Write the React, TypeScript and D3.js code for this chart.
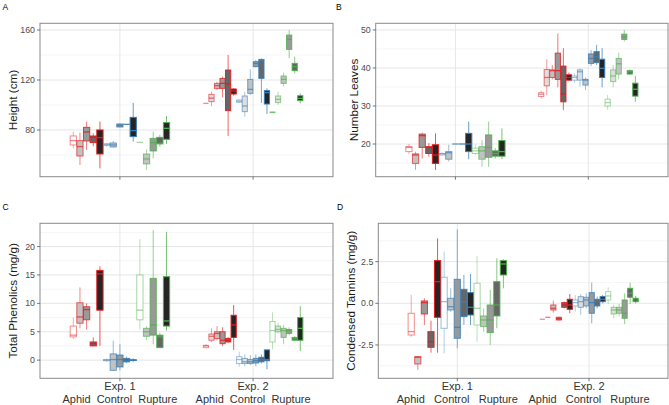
import React from "react";
import * as d3 from "d3";

// [treatment index, fill level, lower whisker, q1, median, q3, upper whisker]
type Box = number[];

const treatments = ["Aphid", "Control", "Rupture"];
const experiments = ["Exp. 1", "Exp. 2"];
const treatmentColors = ["#E41A1C", "#377EB8", "#4DAF4A"];
const levelFills = ["#ffffff", "#dedede", "#c2c2c2", "#999999", "#666666", "#252525"];
const levelAlpha = [0.5, 0.58, 0.68, 0.8, 0.9, 1];

const heightExp1: Box[] = [
  [0, 0, 65.3, 68, 71.5, 75.2, 78.7],
  [0, 2, 52, 59.2, 66.7, 71.5, 77.9],
  [0, 3, 64, 71.2, 78.4, 82.1, 86.7],
  [0, 4, 67, 69.9, 74.2, 75.2, 77.3],
  [0, 5, 49.3, 60.8, 73.9, 80, 86.7],
  [1, 0, 66.4, 67.7, 68.3, 69, 69.6],
  [1, 2, 65.9, 66.4, 68, 69.6, 71.2],
  [1, 3, 82, 82.4, 83.7, 84.8, 85.3],
  [1, 4, 84.5, 84.5, 84.5, 84.5, 84.5],
  [1, 5, 70.7, 74.7, 79.5, 90.1, 101.6],
  [2, 0, 70.1, 70.1, 70.1, 70.1, 70.1],
  [2, 2, 48, 52.8, 56.8, 60.8, 64.5],
  [2, 3, 57.3, 63.2, 69.9, 73.3, 78.7],
  [2, 4, 66.7, 68.8, 69.3, 74.1, 76],
  [2, 5, 68.8, 72.5, 81.3, 85.9, 91.2],
];
const heightExp2: Box[] = [
  [0, 0, 101.3, 101.3, 101.3, 101.3, 101.3],
  [0, 1, 99.2, 102.7, 105.5, 108.5, 110.7],
  [0, 2, 112, 113.3, 115.5, 117.3, 118.7],
  [0, 3, 106.1, 113.3, 117.3, 121.3, 122.7],
  [0, 4, 75.2, 95.5, 116.8, 128, 140],
  [0, 5, 107.5, 108.8, 111.2, 112.8, 113.5],
  [1, 0, 101.5, 102.2, 103, 104, 104.5],
  [1, 1, 90.7, 94.7, 99.2, 107.2, 110.7],
  [1, 2, 108, 109.3, 112.5, 120.5, 128.5],
  [1, 3, 130, 130.7, 133.3, 134.7, 136],
  [1, 4, 101.6, 121.3, 135.5, 136.5, 137.3],
  [1, 5, 92.8, 100.8, 109.9, 111.5, 113.3],
  [2, 0, 93.6, 93.8, 94.1, 94.4, 94.6],
  [2, 1, 100, 101.9, 104.5, 107.2, 110.7],
  [2, 2, 115, 117.3, 120.5, 123.2, 126],
  [2, 3, 137.3, 144.5, 152.5, 156, 160],
  [2, 4, 125.3, 127.5, 130.7, 133.3, 138.7],
  [2, 5, 101.3, 103.5, 105.3, 107.4, 109.3],
];

const leavesExp1: Box[] = [
  [0, 0, 17.4, 18, 19.1, 19.3, 20],
  [0, 2, 13.2, 14.9, 17.1, 17.4, 18],
  [0, 3, 16.2, 19.1, 22.2, 22.6, 23],
  [0, 4, 16.7, 17.5, 19.1, 19.3, 20.2],
  [0, 5, 13.2, 14.9, 17.1, 19.8, 22.8],
  [1, 0, 17, 17.1, 17.4, 17.5, 17.8],
  [1, 2, 15.4, 16, 17.7, 18, 19.8],
  [1, 3, 20, 20, 20, 20, 20],
  [1, 4, 20, 20, 20, 20, 20],
  [1, 5, 16, 18, 20, 22.8, 25.9],
  [2, 0, 17, 17.5, 18.2, 18.9, 19.8],
  [2, 2, 14, 16, 18.2, 19.3, 21],
  [2, 3, 14, 16.5, 19.1, 22.4, 25.9],
  [2, 4, 16.2, 16.8, 17.5, 18.2, 18.9],
  [2, 5, 16, 16.8, 18, 20.9, 24.1],
];
const leavesExp2: Box[] = [
  [0, 0, 32, 32.5, 33.1, 33.5, 34],
  [0, 1, 32.9, 35.3, 37.5, 39.6, 42.3],
  [0, 2, 37, 37.5, 39.3, 39.5, 40.8],
  [0, 3, 34.9, 37, 39.3, 43.9, 49.1],
  [0, 4, 28.9, 31.1, 33.2, 40.5, 45.2],
  [0, 5, 36.7, 36.8, 37.5, 38.2, 38.8],
  [1, 0, 36.1, 36.8, 37.5, 37.9, 38.6],
  [1, 1, 35.1, 36.8, 39, 39.5, 39.9],
  [1, 2, 34.2, 35.5, 36.8, 37, 37.5],
  [1, 3, 40.5, 41.2, 42.5, 43.7, 44.7],
  [1, 4, 40.8, 41.4, 43, 44.3, 46.1],
  [1, 5, 34.9, 37.5, 39.9, 42.3, 45.2],
  [2, 0, 29, 30, 30.9, 31.8, 32.9],
  [2, 1, 34.9, 36.4, 37.9, 39.5, 40.8],
  [2, 2, 37, 38.4, 41.1, 42.5, 44],
  [2, 3, 47, 47.5, 48.2, 48.9, 50],
  [2, 4, 38.2, 38.4, 39, 39.3, 39.6],
  [2, 5, 31.1, 32.6, 34.4, 36, 37.9],
];

const phenolicsExp1: Box[] = [
  [0, 0, 3.8, 4.1, 4.4, 6, 7.5],
  [0, 2, 5.6, 6.5, 7.6, 10.1, 12.8],
  [0, 3, 5.4, 7.1, 8.9, 9.4, 10],
  [0, 4, 2.5, 2.5, 2.9, 3.2, 4],
  [0, 5, 2.5, 8.8, 15.2, 15.8, 16.5],
  [1, 0, -0.3, -0.1, 0, 0.1, 0.3],
  [1, 2, -1.9, -1.8, 0.1, 1.1, 3.4],
  [1, 3, -1.8, -1.2, 0.1, 0.9, 2.8],
  [1, 4, -0.5, -0.3, 0, 0.3, 0.6],
  [1, 5, -0.3, -0.05, 0, 0.05, 0.3],
  [2, 0, 5.4, 7.1, 8.8, 15, 21.3],
  [2, 2, 3.5, 4.2, 5, 5.6, 6],
  [2, 3, 2.8, 4.4, 6.2, 14.4, 22.9],
  [2, 4, 2.2, 2.2, 4.1, 4.4, 4.8],
  [2, 5, 5.2, 6, 6.9, 14.7, 22.6],
];
const phenolicsExp2: Box[] = [
  [0, 0, 2.1, 2.2, 2.5, 2.6, 2.8],
  [0, 1, 3.2, 3.5, 4.2, 4.6, 5.6],
  [0, 2, 3.5, 3.8, 4.7, 5, 6],
  [0, 3, 2.5, 2.9, 3.5, 5, 5.8],
  [0, 4, 3.1, 3.2, 3.5, 3.8, 4.1],
  [0, 5, 1.8, 4, 6.2, 7.9, 9.7],
  [1, 0, -1.2, -0.6, 0.1, 0.6, 1.5],
  [1, 1, -1.1, -0.6, -0.3, 0.3, 1],
  [1, 2, -0.9, -0.6, -0.3, 0.1, 0.9],
  [1, 3, -1.1, -0.5, -0.1, 0.3, 1],
  [1, 4, -0.6, -0.3, 0.1, 0.5, 1],
  [1, 5, -1.6, -0.1, 0.1, 1.8, 1.9],
  [2, 0, 1.9, 3.2, 5.2, 6.8, 8.4],
  [2, 1, 4.7, 5, 5.4, 6, 6.6],
  [2, 2, 2.8, 4, 5.2, 5.6, 6.2],
  [2, 3, 4.4, 4.7, 5.2, 5.4, 5.8],
  [2, 4, 3.5, 3.5, 3.8, 4, 4.2],
  [2, 5, 1.6, 3.5, 5.6, 7.5, 9.5],
];

const tanninsExp1: Box[] = [
  [0, 0, -2, -1.9, -1.7, -0.6, 0.5],
  [0, 2, -4, -3.64, -3.24, -3.2, -3.16],
  [0, 3, -1.3, -0.64, 0.04, 0.14, 0.3],
  [0, 4, -2.96, -2.64, -2.3, -1.7, -1.04],
  [0, 5, -2.96, -0.84, 1.3, 2.56, 3.9],
  [1, 0, -3, -1.5, 0.1, 1.56, 3.1],
  [1, 2, -0.5, -0.4, -0.2, 0.3, 0.9],
  [1, 3, -2.7, -2.1, -1.44, 1.44, 4.44],
  [1, 4, -1.3, -0.8, 0.1, 0.84, 1.7],
  [1, 5, -1.3, -0.7, -0.24, 0.64, 1.76],
  [2, 0, -2.3, -1.3, -0.3, 1.2, 2.84],
  [2, 2, -1.7, -1.4, -1, -0.76, -0.3],
  [2, 3, -2.5, -1.76, -1, -0.1, 0.8],
  [2, 4, -1.5, -0.76, -0.1, 1.3, 2.7],
  [2, 5, 0.9, 1.7, 2.36, 2.56, 2.64],
];
const tanninsExp2: Box[] = [
  [0, 0, -0.96, -0.96, -0.96, -0.96, -0.96],
  [0, 1, -0.84, -0.84, -0.84, -0.84, -0.84],
  [0, 2, -0.56, -0.4, -0.3, -0.1, 0.16],
  [0, 3, -1.04, -1, -0.92, -0.84, -0.8],
  [0, 4, -0.3, -0.24, -0.1, 0.04, 0.1],
  [0, 5, -0.6, -0.36, -0.1, 0.24, 0.56],
  [1, 0, -0.5, -0.16, 0.04, 0.2, 0.5],
  [1, 1, -0.7, -0.24, 0.1, 0.4, 0.56],
  [1, 2, -0.3, -0.16, 0.2, 0.36, 0.6],
  [1, 3, -1.2, -0.6, 0.04, 0.64, 1.24],
  [1, 4, -0.3, -0.16, 0.1, 0.24, 0.4],
  [1, 5, 0, 0.1, 0.24, 0.4, 0.5],
  [2, 0, -0.04, 0.2, 0.44, 0.7, 0.96],
  [2, 1, -0.9, -0.64, -0.4, -0.24, -0.1],
  [2, 2, -0.76, -0.6, -0.4, -0.24, -0.04],
  [2, 3, -1.24, -0.9, -0.6, 0.2, 0.6],
  [2, 4, -0.04, 0.36, 0.6, 0.9, 1.24],
  [2, 5, 0, 0.1, 0.2, 0.3, 0.44],
];

const heightTicks = [80, 120, 160];
const heightMinor = [60, 100, 140];
const leavesTicks = [20, 30, 40, 50];
const leavesMinor = [15, 25, 35, 45];
const phenolicsTicks = [0, 5, 10, 15, 20];
const phenolicsMinor = [2.5, 7.5, 12.5, 17.5, 22.5];
const tanninsTicks = [-2.5, 0, 2.5];
const tanninsMinor = [-3.75, -1.25, 1.25, 3.75];

const FONT = "'Liberation Sans', Arial, Helvetica, sans-serif";

function stroke(t: number, lvl: number, k = 1) {
  const c = d3.color(treatmentColors[t])!;
  c.opacity = levelAlpha[lvl] * k;
  return c.toString();
}

function Panel(props: any) {
  const {
    left, right, top, bottom, domain, major, minor, data, title, titleX,
    letter, letterX, letterY, fmt, xLabels, treatLabel,
  } = props;
  const y = d3.scaleLinear().domain(domain).range([bottom, top]);
  const x = d3.scalePoint<string>().domain(experiments).range([left, right]).padding(0.6);
  const step = x.step();
  const dodge = 0.75 * step;
  const midY = (top + bottom) / 2;

  return (
    <g>
      <text x={letterX} y={letterY} fontSize={8.5} fill="#000" fontFamily={FONT}>{letter}</text>
      {minor.map((v: number) => (
        <line key={"mi" + v} x1={left} x2={right} y1={y(v)} y2={y(v)} stroke="#f2f2f2" strokeWidth={0.8} />
      ))}
      {major.map((v: number) => (
        <line key={"ma" + v} x1={left} x2={right} y1={y(v)} y2={y(v)} stroke="#e6e6e6" strokeWidth={1} />
      ))}
      {experiments.map((e) => (
        <line key={"vx" + e} x1={x(e)} x2={x(e)} y1={top} y2={bottom} stroke="#e6e6e6" strokeWidth={1} />
      ))}
      {experiments.map((e, ei) => {
        const boxes: Box[] = data[ei];
        const n = boxes.length;
        const slot = dodge / n;
        const x0 = (x(e) as number) - dodge / 2;
        return (
          <g key={"g" + e}>
            {boxes.map((b, i) => {
              const [t, lvl, lo, q1, med, q3, hi] = b;
              const cx = x0 + slot * (i + 0.5);
              const bw = slot * 0.94;
              const sc = stroke(t, lvl);
              const wc = stroke(t, lvl, 0.75);
              return (
                <g key={i}>
                  <line x1={cx} x2={cx} y1={y(hi)} y2={y(q3)} stroke={wc} strokeWidth={1} />
                  <line x1={cx} x2={cx} y1={y(q1)} y2={y(lo)} stroke={wc} strokeWidth={1} />
                  {q3 - q1 > 0 && (
                    <rect x={cx - bw / 2} y={y(q3)} width={bw} height={y(q1) - y(q3)}
                      fill={levelFills[lvl]} stroke={sc} strokeWidth={1} />
                  )}
                  <line x1={cx - bw / 2} x2={cx + bw / 2} y1={y(med)} y2={y(med)} stroke={sc} strokeWidth={1.3} />
                </g>
              );
            })}
          </g>
        );
      })}
      <rect x={left} y={top} width={right - left} height={bottom - top} fill="none" stroke="#8a8a8a" strokeWidth={1} />
      {major.map((v: number) => (
        <g key={"t" + v}>
          <line x1={left - 3} x2={left} y1={y(v)} y2={y(v)} stroke="#555" strokeWidth={0.8} />
          <text x={left - 5} y={y(v)} dy="0.35em" textAnchor="end" fontSize={8.8} fill="#4d4d4d" fontFamily={FONT}>
            {fmt(v)}
          </text>
        </g>
      ))}
      {experiments.map((e) => (
        <line key={"xt" + e} x1={x(e)} x2={x(e)} y1={bottom} y2={bottom + 3} stroke="#555" strokeWidth={0.8} />
      ))}
      {xLabels &&
        experiments.map((e) => (
          <g key={"xl" + e}>
            <text x={x(e)} y={bottom + 11.7} textAnchor="middle" fontSize={11} fill="#333" fontFamily={FONT}>{e}</text>
            <text x={x(e)} y={bottom + 24.7} textAnchor="middle" fontSize={11} fill="#333" fontFamily={FONT}
              style={{ whiteSpace: "pre" }}>
              {treatLabel}
            </text>
          </g>
        ))}
      <text transform={`translate(${titleX},${midY}) rotate(-90)`} textAnchor="middle" fontSize={11.7}
        fill="#1a1a1a" fontFamily={FONT}>
        {title}
      </text>
    </g>
  );
}

const intFmt = (v: number) => String(v);
const oneDec = (v: number) => v.toFixed(1);

export default function App() {
  const sep2 = treatments.join("  ");
  const sep3 = treatments.join("   ");
  return (
    <svg width={669} height={405} style={{ position: "absolute", left: 0, top: 0, background: "#fff" }}>
      <rect x={0} y={0} width={669} height={405} fill="#fff" />
      <Panel left={40} right={333} top={23.3} bottom={176.7} domain={[42.6, 165.4]}
        major={heightTicks} minor={heightMinor} data={[heightExp1, heightExp2]}
        title="Height (cm)" titleX={17} letter="A" letterX={2.5} letterY={10} fmt={intFmt} xLabels={false} />
      <Panel left={375.7} right={668} top={23.3} bottom={176.7} domain={[11.4, 51.75]}
        major={leavesTicks} minor={leavesMinor} data={[leavesExp1, leavesExp2]}
        title="Number Leaves" titleX={358} letter="B" letterX={336} letterY={9.5} fmt={intFmt} xLabels={false} />
      <Panel left={40} right={333} top={223.3} bottom={378.3} domain={[-3.2, 24.1]}
        major={phenolicsTicks} minor={phenolicsMinor} data={[phenolicsExp1, phenolicsExp2]}
        title="Total Phenolics (mg/g)" titleX={17} letter="C" letterX={2.5} letterY={210} fmt={intFmt}
        xLabels={true} treatLabel={sep2} />
      <Panel left={378.3} right={668} top={223.3} bottom={378.3} domain={[-4.5, 4.8]}
        major={tanninsTicks} minor={tanninsMinor} data={[tanninsExp1, tanninsExp2]}
        title="Condensed Tannins (mg/g)" titleX={355} letter="D" letterX={337} letterY={210} fmt={oneDec}
        xLabels={true} treatLabel={sep3} />
    </svg>
  );
}
